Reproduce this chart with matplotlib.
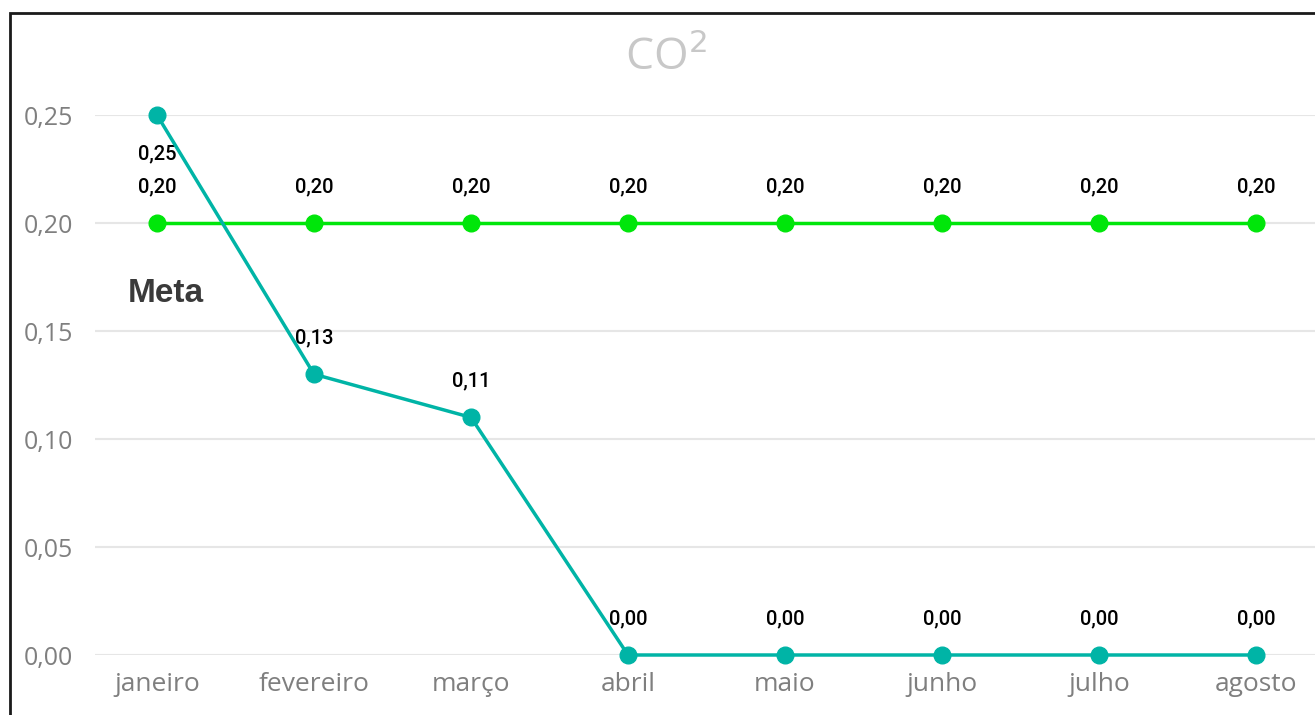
import matplotlib.pyplot as plt
from matplotlib.patches import Rectangle

meses = ['janeiro', 'fevereiro', 'março', 'abril', 'maio', 'junho', 'julho', 'agosto']
co2 = [0.25, 0.13, 0.11, 0.00, 0.00, 0.00, 0.00, 0.00]
meta = [0.20, 0.20, 0.20, 0.20, 0.20, 0.20, 0.20, 0.20]
yticks = [0.00, 0.05, 0.10, 0.15, 0.20, 0.25]

teal = '#00b4a6'
verde = '#00e60a'


def fmt(v):
    return '{:.2f}'.format(v).replace('.', ',')


fig = plt.figure(figsize=(13.15, 7.15), dpi=100)
# moldura preta (cortada a direita e embaixo)
fig.patches.append(Rectangle((10 / 1315, -0.05), 1.2, 1 - 13 / 715 + 0.05,
                             transform=fig.transFigure, fill=False,
                             edgecolor='#1a1a1a', linewidth=2))

# eixo: 0,25 em y=115px, 0,00 em y=655px; x de 95px ate a borda
ax = fig.add_axes([95 / 1315, (715 - 655) / 715, 1 - 95 / 1315, 540 / 715])
x = list(range(len(meses)))

ax.plot(x, meta, color=verde, linewidth=2.5, marker='o', markersize=12,
        clip_on=False, zorder=3)
ax.plot(x, co2, color=teal, linewidth=2.5, marker='o', markersize=12,
        clip_on=False, zorder=4)

# rotulos de dados
for i, v in enumerate(meta):
    ax.annotate(fmt(v), (i, v), xytext=(0, 26), textcoords='offset points',
                ha='center', va='center', fontsize=14.5, family='Roboto',
                fontweight='medium', color='black')
for i, v in enumerate(co2):
    off = -28 if v >= max(yticks) else 26
    ax.annotate(fmt(v), (i, v), xytext=(0, off), textcoords='offset points',
                ha='center', va='center', fontsize=14.5, family='Roboto',
                fontweight='medium', color='black')

ax.set_xlim(-62 / 157, (1315 - 157) / 157)
ax.set_ylim(0, 0.25)
ax.set_xticks(x)
ax.set_xticklabels(meses)
ax.set_yticks(yticks)
ax.set_yticklabels([fmt(t) for t in yticks])
ax.tick_params(axis='both', length=0, labelcolor='#7f7f7f')
ax.tick_params(axis='y', pad=16, labelsize=18)
ax.tick_params(axis='x', pad=12, labelsize=19)
for lab in ax.get_xticklabels() + ax.get_yticklabels():
    lab.set_family('Open Sans')
ax.grid(axis='y', color='#e6e6e6', linewidth=1.5)
ax.set_axisbelow(True)
for s in ax.spines.values():
    s.set_visible(False)

fig.text(0.5 + 8 / 1315, 1 - 59 / 715, 'CO$^2$', ha='center', va='center',
         fontsize=32, color='#c8c8c8', family='Open Sans')
fig.text(128 / 1315, 1 - 294 / 715, 'Meta', ha='left', va='center',
         fontsize=24, fontweight='bold', color='#3a3a3a', family='Liberation Sans')

fig.savefig('out.png', dpi=100)
